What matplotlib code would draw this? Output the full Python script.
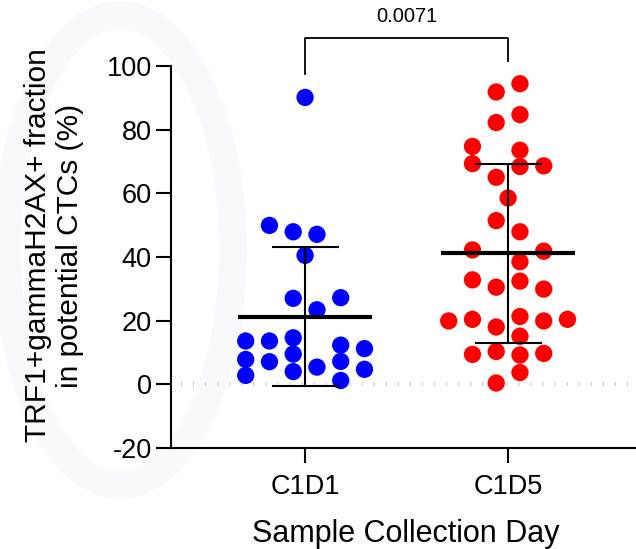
import numpy as np
import matplotlib
matplotlib.use('Agg')
import matplotlib.pyplot as plt
from matplotlib.patches import Ellipse

plt.rcParams['font.family'] = ['Liberation Sans', 'DejaVu Sans']
plt.rcParams['axes.unicode_minus'] = False

# Values (%)
groups = ['C1D1', 'C1D5']
c1d1 = [90.1, 49.9, 47.9, 47.1, 40.5, 27.0, 27.2, 23.4, 13.6, 13.6, 14.6, 12.3,
        11.2, 7.8, 7.1, 9.5, 7.2, 5.4, 4.7, 2.8, 4.0, 1.2]
c1d5 = [94.4, 91.8, 84.7, 82.2, 74.7, 73.5, 69.3, 68.4, 68.6, 65.0, 58.5, 51.4,
        47.9, 42.2, 41.8, 38.5, 32.8, 30.5, 32.4, 29.9, 19.9, 20.4, 18.0, 21.3,
        19.9, 20.4, 15.1, 9.4, 10.3, 9.2, 9.7, 3.7, 0.4]
# column of each dot in the scatter (half-steps from the group centre)
c1d1_col = [0, -1.5, -0.5, 0.5, 0, -0.5, 1.5, 0.5, -2.5, -1.5, -0.5, 1.5,
            2.5, -2.5, -1.5, -0.5, 1.5, 0.5, 2.5, -2.5, -0.5, 1.5]
c1d5_col = [0.5, -0.5, 0.5, -0.5, -1.5, 0.5, -1.5, 0.5, 1.5, -0.5, 0, -0.5,
            0.5, -1.5, 1.5, 0.5, -1.5, -0.5, 0.5, 1.5, -2.5, -1.5, -0.5, 0.5,
            1.5, 2.5, 0.5, -1.5, -0.5, 0.5, 1.5, 0.5, -0.5]
p_value = '0.0071'
colors = ['#0000ff', '#ff0000']

fig = plt.figure(figsize=(6.36, 5.49), dpi=100)

# faint watermark ring in the background
bg = fig.add_axes([0, 0, 1, 1], zorder=-5)
bg.set_axis_off()
bg.set_xlim(0, 636)
bg.set_ylim(549, 0)
bg.add_patch(Ellipse((120, 250), 226, 470, facecolor='none',
                     edgecolor='#f8f9fd', lw=20))

ax = fig.add_axes([0.269, 0.184, 0.731, 0.696])
ax.patch.set_alpha(0)

step = 0.117
# dotted zero line (short vertical dashes)
ax.axhline(0, xmin=0.022, xmax=1, color='#c4c4c4', lw=2.8,
           dashes=(0.25, 2.85), zorder=1)

for i, (vals, cols) in enumerate([(c1d1, c1d1_col), (c1d5, c1d5_col)]):
    vals = np.array(vals)
    xs = i + np.array(cols) * step
    ax.scatter(xs, vals, s=155, color=colors[i], edgecolors='none', zorder=3)
    m = vals.mean()
    sd = vals.std(ddof=1)
    ax.plot([i - 0.33, i + 0.33], [m, m], color='black', lw=3, zorder=4,
            solid_capstyle='butt')
    ax.plot([i, i], [m - sd, m + sd], color='black', lw=1.5, zorder=4)
    for yy in (m - sd, m + sd):
        ax.plot([i - 0.165, i + 0.165], [yy, yy], color='black', lw=1.5,
                zorder=4, solid_capstyle='butt')

# significance bracket
ax.plot([0, 0, 1, 1], [97.5, 108.6, 108.6, 101.6], color='black', lw=1.3,
        clip_on=False)
ax.text(0.5, 112.5, p_value, ha='center', va='bottom', fontsize=14.5,
        clip_on=False)

ax.set_xlim(-0.66, 1.63)
ax.set_ylim(-20, 100)
ax.set_yticks(np.arange(-20, 101, 20))
ax.set_xticks([0, 1])
ax.set_xticklabels(groups)
ax.spines['top'].set_visible(False)
ax.spines['right'].set_visible(False)
for s in ('left', 'bottom'):
    ax.spines[s].set_linewidth(1.5)
ax.tick_params(axis='both', length=10.5, width=1.5, labelsize=19.5)
ax.tick_params(axis='x', pad=8, labelsize=19.5)

ax.set_ylabel('TRF1+gammaH2AX+ fraction\nin potential CTCs (%)', fontsize=21.5,
              linespacing=1.15)
ax.yaxis.set_label_coords(-0.188, 0.53)
ax.set_xlabel('Sample Collection Day', fontsize=22)
ax.xaxis.set_label_coords(0.505, -0.186)

fig.savefig('out.png', dpi=100)
